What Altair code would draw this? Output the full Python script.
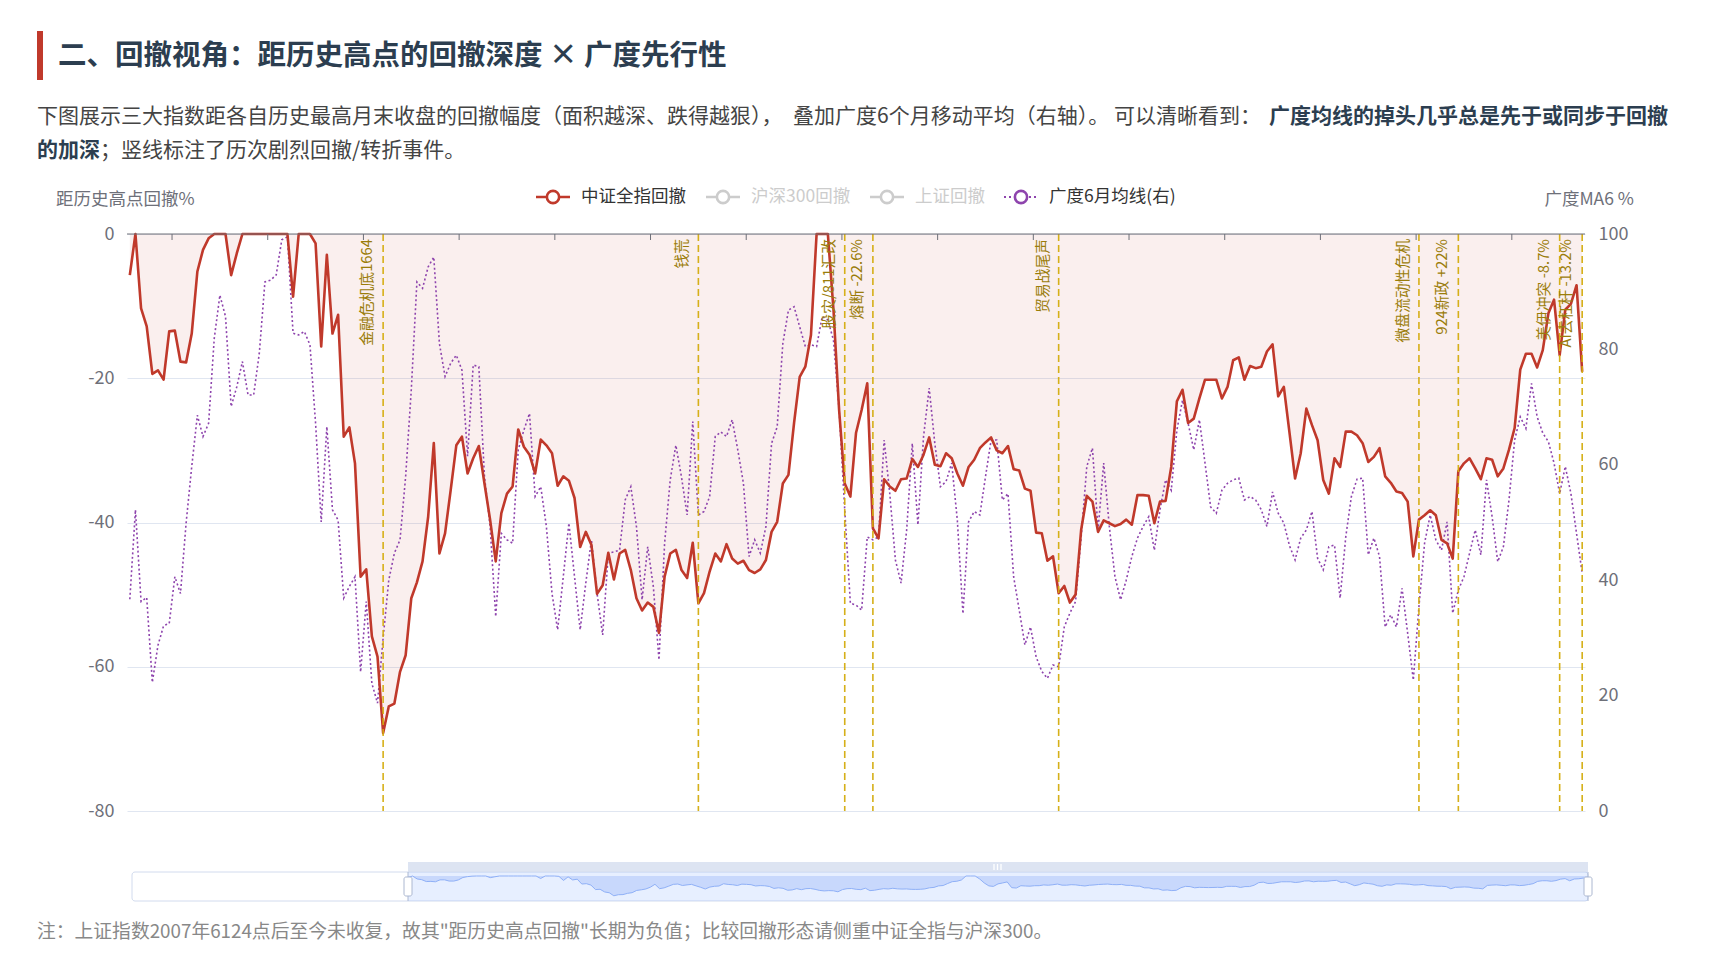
import json
import altair as alt
import pandas as pd

# ---------------- data ----------------
months = pd.date_range("2005-01-01", "2026-07-01", freq="MS").strftime("%Y-%m").tolist()

dd_csi_all = [
    -5.7, 0, -10.3, -12.8, -19.4, -18.9, -20.2, -13.5, -13.4, -17.7, -17.8, -13.8,
    -5.2, -2.2, -0.6, 0, 0, 0, -5.7, -2.7, 0, 0, 0, 0,
    0, 0, 0, 0, 0, -8.7, 0, 0, 0, -1.3, -15.6, -2.9,
    -13.8, -11.2, -28.1, -26.8, -31.8, -47.5, -46.5, -55.8, -58.6, -69.2, -65.5, -65.1,
    -60.7, -58.4, -50.5, -48.3, -45.4, -39.2, -29.0, -44.3, -41.5, -35.5, -29.3, -28.1,
    -33.2, -31.1, -29.4, -34.6, -39.6, -45.4, -38.7, -36.0, -35.0, -27.1, -29.5, -30.6,
    -33.2, -28.5, -29.3, -30.4, -34.9, -33.6, -34.2, -36.6, -43.4, -41.3, -43.1, -49.9,
    -48.7, -44.2, -47.9, -44.3, -43.8, -46.6, -50.5, -52.2, -51.1, -51.7, -55.3, -47.5,
    -44.3, -43.8, -46.6, -47.7, -42.8, -51.2, -49.8, -46.8, -44.3, -45.4, -43.0, -45.0,
    -45.7, -45.3, -46.6, -47.0, -46.5, -45.2, -41.3, -39.9, -34.6, -33.4, -26.2, -19.8,
    -18.4, -14.0, 0, 0, 0, -10.5, -24.4, -34.6, -36.4, -27.6, -24.4, -20.7,
    -40.8, -42.2, -34.0, -35.0, -35.6, -34.0, -33.9, -31.2, -32.3, -30.6, -28.2, -32.0,
    -32.2, -30.4, -31.1, -33.2, -34.9, -32.3, -31.3, -29.7, -28.9, -28.2, -30.0, -30.4,
    -29.4, -32.6, -32.8, -35.3, -35.6, -41.4, -41.5, -45.3, -44.7, -49.8, -48.8, -51.1,
    -50.0, -41.0, -36.3, -37.1, -41.3, -39.7, -40.1, -40.5, -40.2, -39.6, -40.3, -36.2,
    -36.2, -36.3, -40.1, -37.1, -37.0, -32.3, -23.2, -21.6, -26.2, -25.6, -22.8, -20.2,
    -20.2, -20.2, -22.8, -21.2, -17.5, -17.1, -20.2, -18.3, -18.6, -18.4, -16.3, -15.3,
    -22.5, -21.2, -27.5, -33.9, -30.4, -24.2, -26.5, -28.6, -34.1, -36.0, -31.1, -32.3,
    -27.4, -27.4, -27.9, -29.0, -31.6, -30.9, -29.7, -33.6, -34.5, -35.7, -35.9, -37.1,
    -44.7, -39.6, -39.0, -38.3, -39.0, -42.4, -42.9, -45.0, -32.9, -31.8, -31.1, -32.5,
    -34.0, -31.1, -31.3, -33.6, -32.5, -29.9, -26.9, -18.8, -16.6, -16.6, -18.5, -16.1,
    -11.0, -9.1, -16.8, -10.5, -9.7, -7.1, -19.1,
]

breadth_ma6 = [
    36.7, 52.2, 36.3, 37.0, 22.3, 28.7, 32.1, 32.5, 40.6, 37.7, 49.9, 59.7,
    68.6, 64.9, 67.2, 81.9, 89.4, 85.7, 70.1, 73.5, 77.9, 72.1, 72.1, 79.3,
    91.7, 92.0, 92.9, 99.0, 99.5, 82.8, 82.5, 83.1, 80.8, 67.2, 50.1, 66.6,
    52.2, 50.4, 36.9, 38.9, 40.6, 24.1, 36.3, 22.1, 18.7, 30.0, 40.0, 44.7,
    47.0, 58.0, 73.0, 91.7, 90.6, 94.3, 96.0, 81.0, 75.3, 77.6, 79.0, 76.4,
    61.5, 77.3, 77.0, 58.0, 49.3, 33.7, 48.1, 47.0, 46.4, 62.6, 66.0, 68.9,
    54.5, 56.2, 49.3, 37.7, 31.4, 40.6, 49.9, 40.6, 31.4, 39.5, 47.0, 37.7,
    30.5, 44.7, 44.9, 45.2, 53.9, 56.2, 49.3, 36.6, 45.8, 38.9, 26.2, 46.4,
    57.4, 63.4, 57.9, 51.3, 67.5, 51.3, 51.9, 54.5, 64.9, 65.7, 64.9, 67.8,
    62.6, 56.8, 44.1, 47.0, 44.7, 49.3, 63.7, 66.6, 81.0, 86.8, 87.4, 83.9,
    80.5, 80.8, 80.5, 85.7, 85.1, 81.6, 69.5, 52.2, 36.0, 35.7, 34.8, 47.5,
    47.0, 47.5, 64.3, 55.0, 43.5, 39.5, 48.7, 63.7, 49.6, 64.9, 73.3, 63.7,
    56.2, 57.1, 60.3, 50.4, 34.2, 50.1, 51.9, 51.3, 57.9, 64.3, 64.3, 53.9,
    55.0, 40.6, 34.8, 28.8, 31.9, 26.7, 24.2, 23.0, 25.3, 25.0, 31.9, 34.3,
    36.3, 47.5, 59.7, 62.9, 48.7, 60.3, 49.3, 40.6, 36.6, 40.0, 44.1, 47.3,
    49.3, 51.0, 45.2, 52.2, 57.4, 55.6, 66.0, 71.2, 67.2, 62.6, 67.8, 60.3,
    52.7, 51.6, 55.6, 56.8, 57.4, 57.7, 53.9, 54.5, 53.9, 52.2, 49.3, 55.3,
    51.6, 49.9, 46.0, 43.5, 47.3, 48.7, 51.9, 43.8, 41.8, 45.8, 46.1, 36.9,
    47.5, 54.5, 57.5, 57.7, 44.4, 47.3, 44.1, 31.9, 34.0, 31.9, 38.6, 30.8,
    22.7, 35.4, 46.4, 51.3, 47.0, 45.2, 50.1, 34.3, 38.3, 40.6, 44.7, 48.7,
    44.4, 57.4, 51.0, 43.2, 45.8, 53.9, 64.3, 68.3, 66.3, 74.1, 68.3, 65.5,
    64.0, 60.3, 55.0, 59.7, 55.0, 48.1, 41.2,
]

x_labels = ["2005-09", "2007-02", "2008-07", "2009-12", "2011-05", "2012-10", "2014-03",
            "2015-08", "2017-01", "2018-06", "2019-11", "2021-04", "2022-09", "2024-02", "2025-07"]
left_ticks = [-80, -60, -40, -20, 0]
right_ticks = [0, 20, 40, 60, 80, 100]

event_months = ["2008-10", "2013-06", "2015-08", "2016-01", "2018-10",
                "2024-02", "2024-09", "2026-03", "2026-07"]
event_labels = ["金融危机底1664", "钱荒", "股灾/811汇改", "熔断 -22.6%", "贸易战尾声",
                "微盘流动性危机", "924新政 +22%", "美伊冲突 -8.7%", "AI去杠杆 -13.2%"]

legend_names = ["中证全指回撤", "沪深300回撤", "上证回撤", "广度6月均线(右)"]
legend_colors = ["#c0392b", "#cccccc", "#cccccc", "#8e44ad"]
legend_text_colors = ["#333333", "#cccccc", "#cccccc", "#333333"]

title_text = "二、回撤视角：距历史高点的回撤深度 × 广度先行性"
desc1_a = "下图展示三大指数距各自历史最高月末收盘的回撤幅度（面积越深、跌得越狠），"
desc1_b = "叠加广度6个月移动平均（右轴）。"
desc1_c = "可以清晰看到："
desc1_bold = "广度均线的掉头几乎总是先于或同步于回撤"
desc2_bold = "的加深"
desc2_normal = "；竖线标注了历次剧烈回撤/转折事件。"
footnote = '注：上证指数2007年6124点后至今未收复，故其"距历史高点回撤"长期为负值；比较回撤形态请侧重中证全指与沪深300。'

# ---------------- layout ----------------
W, H = 1458, 577
FONT = "Noto Sans CJK SC"
RED = "#c0392b"
PURPLE = "#8e44ad"
GOLD = "#d4ac0d"
AXIS_GRAY = "#6E7079"
N = len(months)

df = pd.DataFrame({"i": list(range(N)), "month": months, "dd": dd_csi_all, "br": breadth_ma6})
label_idx = [months.index(m) for m in x_labels]
ev_df = pd.DataFrame({"i": [months.index(m) for m in event_months], "label": event_labels})
tick_df = pd.DataFrame({"t": [k - 0.5 for k in label_idx]})
one = pd.DataFrame({"k": [0]})

label_expr = f"{json.dumps(x_labels, ensure_ascii=False)}[indexof({json.dumps(label_idx)}, datum.value)]"

xs = alt.Scale(domain=[-0.5, N - 0.5], nice=False, zero=False)
ys = alt.Scale(domain=[-80, 0], nice=False)
yr = alt.Scale(domain=[0, 100], nice=False)

x_axis = alt.Axis(values=label_idx, labelExpr=label_expr, title=None, ticks=False, domain=False,
                  grid=False, labelFontSize=18, labelColor=AXIS_GRAY, labelPadding=10,
                  labelFont=FONT, labelBaseline="top")
yl_axis = alt.Axis(values=left_ticks, labelExpr="toString(datum.value)", title=None, ticks=False,
                   domain=False, grid=True, gridColor="#E0E6F1", labelFontSize=18,
                   labelColor=AXIS_GRAY, labelPadding=13, labelFont=FONT, orient="left")
yr_axis = alt.Axis(values=right_ticks, labelExpr="toString(datum.value)", title=None, ticks=False,
                   domain=False, grid=False, labelFontSize=18, labelColor=AXIS_GRAY,
                   labelPadding=13, labelFont=FONT, orient="right")

base = alt.Chart(df)

area = base.mark_area(color=RED, opacity=0.08).encode(
    x=alt.X("i:Q", scale=xs, axis=x_axis),
    y=alt.Y("dd:Q", scale=ys, axis=yl_axis),
    y2=alt.datum(0),
)
red_line = base.mark_line(color=RED, strokeWidth=2.6, strokeJoin="round").encode(
    x=alt.X("i:Q", scale=xs, axis=None),
    y=alt.Y("dd:Q", scale=ys, axis=None),
)
purple_line = base.mark_line(color=PURPLE, strokeWidth=1.6, strokeDash=[2, 2.5]).encode(
    x=alt.X("i:Q", scale=xs, axis=None),
    y=alt.Y("br:Q", scale=yr, axis=yr_axis),
)
ev_rules = alt.Chart(ev_df).mark_rule(color=GOLD, strokeDash=[7, 4], strokeWidth=1.6, opacity=0.95).encode(
    x=alt.X("i:Q", scale=xs, axis=None),
    y=alt.value(0),
    y2=alt.value(H),
)
ev_text = alt.Chart(ev_df).mark_text(angle=270, align="right", baseline="middle", dy=-15,
                                      fontSize=14.8, color="#9a7d0a", font=FONT).encode(
    x=alt.X("i:Q", scale=xs, axis=None),
    y=alt.value(5),
    text="label:N",
)
axis_line = alt.Chart(one).mark_rule(color=AXIS_GRAY, strokeWidth=1).encode(
    x=alt.value(0), x2=alt.value(W), y=alt.value(0))
axis_ticks = alt.Chart(tick_df).mark_rule(color=AXIS_GRAY, strokeWidth=1).encode(
    x=alt.X("t:Q", scale=xs, axis=None), y=alt.value(0), y2=alt.value(6))

main = alt.layer(area, purple_line, red_line, ev_rules, ev_text, axis_line, axis_ticks).resolve_scale(y="independent")

# ---------------- slider (data zoom) ----------------
SX0, SX1, SY0, SY1 = 5, 1461, 638, 667
WX0 = 281
sx = alt.Scale(domain=[0, N - 1], range=[WX0, SX1], nice=False, zero=False)
sy = alt.Scale(domain=[-70, 0], range=[662, 642], nice=False, zero=False)

slider_box = alt.Chart(one).mark_rect(fill="white", stroke="#d2dbee", strokeWidth=1, cornerRadius=3).encode(
    x=alt.value(SX0), x2=alt.value(SX1), y=alt.value(SY0), y2=alt.value(SY1))
slider_fill = alt.Chart(one).mark_rect(fill="#87afff", opacity=0.2).encode(
    x=alt.value(WX0), x2=alt.value(SX1), y=alt.value(SY0), y2=alt.value(SY1))
move_bar = alt.Chart(one).mark_rect(fill="#d2dbee", opacity=0.75).encode(
    x=alt.value(WX0), x2=alt.value(SX1), y=alt.value(628), y2=alt.value(SY0))
grip = alt.Chart(pd.DataFrame({"gx": [867.0, 870.5, 874.0]})).mark_rule(color="white", strokeWidth=1.3).encode(
    x=alt.X("gx:Q", scale=None), y=alt.value(630), y2=alt.value(636))

shadow_area = base.mark_area(color="#8fb0f7", opacity=0.35).encode(
    x=alt.X("i:Q", scale=sx, axis=None),
    y=alt.Y("dd:Q", scale=sy, axis=None),
    y2=alt.value(SY1),
)
shadow_line = base.mark_line(color="#8fb0f7", strokeWidth=1).encode(
    x=alt.X("i:Q", scale=sx, axis=None),
    y=alt.Y("dd:Q", scale=sy, axis=None),
)
shadow = alt.layer(shadow_area, shadow_line)

handle_df = pd.DataFrame({"hx": [WX0, SX1]})
handle_df["hx0"] = handle_df.hx - 4
handle_df["hx1"] = handle_df.hx + 4
handle_lines = alt.Chart(handle_df).mark_rule(color="#acb8d1", strokeWidth=1).encode(
    x=alt.X("hx:Q", scale=None), y=alt.value(SY0), y2=alt.value(SY1))
handles = alt.Chart(handle_df).mark_rect(fill="white", stroke="#acb8d1", strokeWidth=1, cornerRadius=2).encode(
    x=alt.X("hx0:Q", scale=None), x2="hx1:Q", y=alt.value(643), y2=alt.value(662))

# ---------------- legend ----------------
legend_cx = [426, 596, 760, 894]
leg = pd.DataFrame({"name": legend_names, "color": legend_colors, "tcolor": legend_text_colors,
                    "cx": legend_cx})
leg["x0"] = leg.cx - 17
leg["x1"] = leg.cx + 17
leg["tx"] = leg.cx + 28
leg["y"] = -37

leg_solid = alt.Chart(leg.iloc[:3]).mark_rule(strokeWidth=2.6).encode(
    x=alt.X("x0:Q", scale=None), x2="x1:Q", y=alt.Y("y:Q", scale=None),
    color=alt.Color("color:N", scale=None))
leg_dot = alt.Chart(leg.iloc[3:]).mark_rule(strokeWidth=2.2, strokeDash=[2, 3]).encode(
    x=alt.X("x0:Q", scale=None), x2="x1:Q", y=alt.Y("y:Q", scale=None),
    color=alt.Color("color:N", scale=None))
leg_pt = alt.Chart(leg).mark_point(shape="circle", filled=True, fill="white", size=150,
                                   strokeWidth=2.6, opacity=1).encode(
    x=alt.X("cx:Q", scale=None), y=alt.Y("y:Q", scale=None),
    stroke=alt.Stroke("color:N", scale=None))
leg_txt = alt.Chart(leg).mark_text(align="left", baseline="middle", fontSize=17.5, font=FONT).encode(
    x=alt.X("tx:Q", scale=None), y=alt.Y("y:Q", scale=None), text="name:N",
    color=alt.Color("tcolor:N", scale=None))


# ---------------- texts ----------------
def txt(s, x, y, size, color, weight="normal", align="left"):
    return alt.Chart(one).mark_text(text=s, align=align, baseline="middle", fontSize=size,
                                    color=color, fontWeight=weight, font=FONT).encode(
        x=alt.value(x), y=alt.value(y))


title_bar = alt.Chart(one).mark_rect(fill=RED).encode(
    x=alt.value(-90), x2=alt.value(-84), y=alt.value(-203), y2=alt.value(-154))
texts = [
    txt(title_text, -69, -178, 28.5, "#2c3e50", "bold"),
    txt(desc1_a, -90, -117, 21, "#444444"),
    txt(desc1_b, 666, -117, 21, "#444444"),
    txt(desc1_c, 987, -117, 21, "#444444"),
    txt(desc1_bold, 1142, -117, 21, "#2c3e50", "bold"),
    txt(desc2_bold, -90, -83, 21, "#2c3e50", "bold"),
    txt(desc2_normal, -27, -83, 21, "#444444"),
    txt("距历史高点回撤%", -71, -34, 17.5, AXIS_GRAY),
    txt("广度MA6 %", 1507, -34, 17.5, AXIS_GRAY, align="right"),
    txt(footnote, -90, 698, 18.8, "#888888"),
]

chart = alt.layer(
    slider_box, slider_fill, move_bar, grip, shadow, handle_lines, handles,
    main,
    leg_solid, leg_dot, leg_pt, leg_txt,
    title_bar, *texts,
).resolve_scale(x="independent", y="independent").properties(
    width=W, height=H,
    padding={"left": 119, "top": 226, "right": 122, "bottom": 150},
    autosize=alt.AutoSizeParams(type="none"),
    background="white",
).configure_view(stroke=None)

chart.save("out.html", embed_options={"renderer": "svg", "actions": False})
